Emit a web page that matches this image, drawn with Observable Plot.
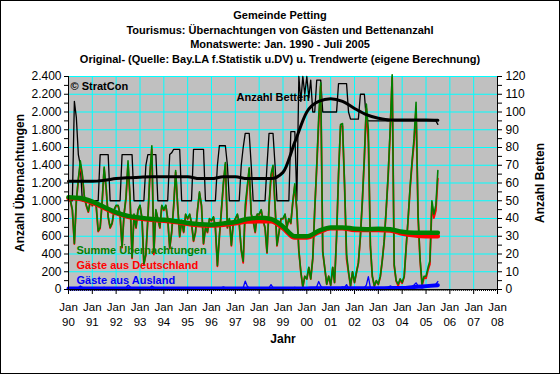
<!DOCTYPE html>
<html><head><meta charset="utf-8">
<script src="https://cdn.jsdelivr.net/npm/d3@7"></script>
<script src="https://cdn.jsdelivr.net/npm/@observablehq/plot@0.6"></script>
<style>
body{margin:0;background:#fff;}
#wrap{position:relative;width:560px;height:374px;background:#fff;font-family:"Liberation Sans",Arial,sans-serif;}
#titles{height:68px;box-sizing:border-box;padding-top:8px;text-align:center;font-weight:bold;font-size:11px;line-height:14.5px;color:#000;}
#border{position:absolute;left:0;top:0;width:560px;height:374px;box-sizing:border-box;border:1px solid #000;pointer-events:none;}
svg{display:block;}
</style></head>
<body>
<div id="wrap">
<div id="titles">
<div>Gemeinde Petting</div>
<div>Tourismus: Übernachtungen von Gästen und Bettenanzahl</div>
<div>Monatswerte: Jan. 1990 - Juli 2005</div>
<div>Original- (Quelle: Bay.LA f.Statistik u.DV) u. Trendwerte (eigene Berechnung)</div>
</div>
<div id="chart"></div>
<div id="border"></div>
</div>
<script>
// Monthly values, Jan 1990 - Jul 2005
const summe = [
 1050,1000,900,520,1000,1250,1450,1300,1050,950,880,1000,   // 1990
 950,1000,950,660,700,1000,1380,1150,820,700,750,900,       // 1991
 950,950,850,480,850,1050,1450,1050,360,850,700,900,        // 1992
 950,800,290,400,800,1300,1620,420,900,800,700,950,         // 1993
 900,950,800,470,650,950,1340,950,600,780,650,850,          // 1994
 800,850,750,550,650,900,1100,950,520,700,650,800,          // 1995
 780,820,700,270,600,900,1200,1430,700,800,500,760,         // 1996
 800,850,750,450,320,950,1150,1370,850,780,650,850,         // 1997
 850,900,780,700,420,950,1300,1400,950,500,650,800,         // 1998
 800,850,700,800,750,1000,1190,900,440,200,30,150,          // 1999
 120,250,120,350,900,1400,1950,2330,430,250,60,150,         // 2000
 50,250,80,600,1300,1860,1870,1200,400,200,40,200,          // 2001
 80,200,300,600,1000,1500,2090,1800,500,150,40,100,         // 2002
 60,150,320,550,900,1300,1800,2420,280,100,60,120,          // 2003
 80,150,470,800,1150,1450,1700,2110,850,350,60,150,         // 2004
 150,250,320,1000,850,950,1340                              // 2005
];
const deutschland = [
 1042,992,892,512,990,1230,1410,1275,1040,942,872,992,
 942,992,942,652,690,985,1355,1135,812,692,742,892,
 942,942,842,472,840,1030,1400,1020,350,842,692,892,
 942,792,282,392,790,1280,1580,395,890,792,692,942,
 892,942,792,462,640,935,1320,935,592,772,642,842,
 792,842,742,542,640,888,1085,938,512,692,642,792,
 772,812,692,262,590,880,1170,1410,692,792,492,752,
 792,842,742,442,300,855,1110,1355,842,772,642,842,
 842,892,772,692,410,930,1245,1380,940,492,642,792,
 795,845,695,795,742,985,1165,885,435,197,28,147,
 118,247,117,345,890,1370,1860,2290,420,245,58,147,
 48,247,77,595,1290,1840,1840,1175,345,190,37,197,
 77,197,296,595,990,1480,2040,1654,480,145,37,97,
 57,147,316,545,890,1280,1760,2390,270,95,40,110,
 70,138,455,780,1125,1420,1650,2035,810,330,45,130,
 125,220,285,960,805,890,1250
];
const ausland = [
 8,8,8,8,10,20,40,25,10,8,8,8,
 8,8,8,8,10,15,25,15,8,8,8,8,
 8,8,8,8,10,20,50,30,10,8,8,8,
 8,8,8,8,10,20,40,25,10,8,8,8,
 8,8,8,8,10,15,20,15,8,8,8,8,
 8,8,8,8,10,12,15,12,8,8,8,8,
 8,8,8,8,10,20,30,20,8,8,8,8,
 8,8,8,8,20,95,40,15,8,8,8,8,
 8,8,8,8,10,20,55,20,10,8,8,8,
 5,5,5,5,8,15,25,15,5,3,2,3,
 2,3,3,5,10,30,90,40,10,5,2,3,
 2,3,3,5,10,20,30,25,55,10,3,3,
 3,3,4,5,10,20,50,146,20,5,3,3,
 3,3,4,5,10,20,40,30,10,5,20,10,
 10,12,15,20,25,30,50,75,40,20,15,20,
 25,30,35,40,45,60,90
];
const betten = [
 50,50,50,106,97,76,70,50,50,50,50,50,
 50,50,50,50,76,76,76,76,76,50,50,50,
 50,50,50,76,76,76,76,76,76,50,50,50,
 50,50,50,70,76,76,76,76,76,50,50,50,
 50,50,50,76,77,79,79,79,79,50,50,50,
 50,50,50,79,79,79,79,79,79,50,50,50,
 50,50,50,70,81,81,81,81,70,50,50,50,
 50,50,50,70,80,88,88,88,70,50,50,50,
 50,50,50,50,70,88,88,88,70,50,50,50,
 50,50,50,50,89,89,89,50,120,106,120,110,
 120,108,118,100,100,118,118,118,100,100,100,100,
 100,100,100,100,116,116,116,116,116,100,96,96,
 96,96,96,110,110,110,96,95,95,95,95,95,
 95,95,95,95,95,95,95,95,95,95,95,95,
 95,95,95,95,95,95,95,95,95,95,95,95,
 95,95,95,95,95,95,93
];
// Trend values (half-yearly readings)
const trendMonths = ["1990-01","1990-07","1991-01","1991-07","1992-01","1992-07","1993-01","1993-07",
 "1994-01","1994-07","1995-01","1995-07","1996-01","1996-07","1997-01","1997-07","1998-01","1998-07",
 "1999-01","1999-07","2000-01","2000-07","2001-01","2001-07","2002-01","2002-07","2003-01","2003-07",
 "2004-01","2004-07","2005-01","2005-07"];
const trendSumme = [1040,1030,990,930,870,830,810,795,785,770,750,735,730,745,760,795,808,795,
 710,600,600,660,700,700,685,680,685,680,650,640,640,640];
const trendDeutschland = [1030,1020,980,920,860,820,800,785,775,760,740,725,720,730,745,765,770,770,
 690,585,585,645,690,690,670,670,670,665,630,610,600,600];
const trendAusland = [10,10,10,10,10,10,10,10,10,10,10,10,10,10,12,12,12,12,10,10,12,14,14,14,14,14,14,16,16,28,38,48];
const trendBetten = [61,61,61,61.5,62.5,63,63.3,63.5,63.5,63.5,63.5,62.5,62.5,63.5,63.5,62.5,62.5,62.5,
 66,83,100,106,107.5,106,102,98.5,96.5,95.5,95.5,95.5,95.5,95.3];
const yearLabels = ["90","91","92","93","94","95","96","97","98","99","00","01","02","03","04","05","06","07","08"];
const leftTicks = d3.range(0, 2401, 100);
const bettenFactor = 20; // right axis: 120 beds <-> 2400 nights

const X0 = new Date(Date.UTC(1990,0,1)), X1 = new Date(Date.UTC(2008,0,1));
const yearTicks = d3.utcYear.range(X0, d3.utcDay.offset(X1,1));
const monthTicks = d3.utcMonth.range(X0, X1);
const parseM = d3.utcParse("%Y-%m");
const rows = summe.map((v,i)=>({date:d3.utcMonth.offset(X0,i), summe:v, de:deutschland[i], aus:ausland[i], betten:betten[i]}));
const trend = trendMonths.map((m,i)=>({date:parseM(m), summe:trendSumme[i], de:trendDeutschland[i], aus:trendAusland[i], betten:trendBetten[i]}));
const fmtDE = d3.formatLocale({decimal:",", thousands:".", grouping:[3], currency:["",""]}).format(",");

const F = "Liberation Sans, Arial, sans-serif";
const chart = Plot.plot({
  width:560, height:306,
  marginLeft:68, marginRight:63, marginTop:8, marginBottom:85,
  x:{type:"utc", domain:[X0,X1], axis:null},
  y:{domain:[0,2400], axis:null},
  style:{fontFamily:F, fontSize:"11.5px", background:"transparent", color:"#000", overflow:"visible"},
  marks:[
    Plot.frame({fill:"#c0c0c0", stroke:"#808080"}),
    Plot.ruleY(d3.range(200,2401,200), {stroke:"#00ffff", strokeWidth:1}),
    Plot.ruleX(yearTicks, {stroke:"#00ffff", strokeWidth:1}),
    Plot.text(["© StratCon"], {text:d=>d, frameAnchor:"top-left", dx:2, dy:10, textAnchor:"start", lineAnchor:"middle", fontWeight:"bold", fontSize:11, fill:"#000"}),
    Plot.text(["Anzahl Betten"], {text:d=>d, frameAnchor:"top-left", dx:168, dy:21, textAnchor:"start", lineAnchor:"middle", fontWeight:"bold", fontSize:11, fill:"#000"}),
    Plot.text(["Summe Übernachtungen"], {text:d=>d, frameAnchor:"top-left", dx:8, dy:174, textAnchor:"start", lineAnchor:"middle", fontWeight:"bold", fontSize:11, fill:"#008000"}),
    Plot.text(["Gäste aus Deutschland"], {text:d=>d, frameAnchor:"top-left", dx:8, dy:189, textAnchor:"start", lineAnchor:"middle", fontWeight:"bold", fontSize:11, fill:"#ff0000"}),
    Plot.text(["Gäste aus Ausland"], {text:d=>d, frameAnchor:"top-left", dx:8, dy:204, textAnchor:"start", lineAnchor:"middle", fontWeight:"bold", fontSize:11, fill:"#0000ff"}),
    Plot.line(rows, {x:"date", y:d=>d.betten*bettenFactor, stroke:"#000", strokeWidth:1.3}),
    Plot.line(rows, {x:"date", y:"de", stroke:"#ff0000", strokeWidth:1.8}),
    Plot.line(rows, {x:"date", y:"summe", stroke:"#008000", strokeWidth:1.6}),
    Plot.line(rows, {x:"date", y:"aus", stroke:"#0000ff", strokeWidth:1.3}),
    Plot.line(trend, {x:"date", y:"de", stroke:"#ff0000", strokeWidth:4.5, curve:"monotone-x"}),
    Plot.line(trend, {x:"date", y:"summe", stroke:"#008000", strokeWidth:4.5, curve:"monotone-x"}),
    Plot.line(trend, {x:"date", y:"aus", stroke:"#0000ff", strokeWidth:4, curve:"monotone-x"}),
    Plot.line(trend, {x:"date", y:d=>d.betten*bettenFactor, stroke:"#000", strokeWidth:3, curve:"monotone-x"}),
    Plot.ruleY([0], {stroke:"#000", strokeWidth:1}),
    Plot.ruleX([X0, X1], {stroke:"#000", strokeWidth:1}),
    Plot.axisY({ticks:leftTicks, tickSize:4, tickPadding:3, tickFormat:d=>d%200===0?fmtDE(d):"", label:null, fontSize:12}),
    Plot.axisY({anchor:"right", ticks:leftTicks, tickSize:4, tickPadding:4, tickFormat:d=>d%200===0?String(d/bettenFactor):"", label:null, fontSize:12}),
    Plot.axisX({ticks:monthTicks, tickSize:2, tickFormat:()=>"", label:null}),
    Plot.axisX({ticks:yearTicks, tickSize:5, tickPadding:6, tickFormat:(d,i)=>"Jan\n"+yearLabels[i], lineHeight:1.3, label:null, fontSize:11.5}),
    Plot.text(["Anzahl Übernachtungen"], {text:d=>d, frameAnchor:"left", dx:-48, rotate:-90, textAnchor:"middle", lineAnchor:"middle", fontWeight:"bold", fontSize:12, fill:"#000"}),
    Plot.text(["Anzahl Betten"], {text:d=>d, frameAnchor:"right", dx:43, rotate:-90, textAnchor:"middle", lineAnchor:"middle", fontWeight:"bold", fontSize:12, fill:"#000"}),
    Plot.text(["Jahr"], {text:d=>d, frameAnchor:"bottom", dy:53, fontWeight:"bold", fontSize:12, fill:"#000"})
  ]
});
document.getElementById("chart").appendChild(chart);
</script>
</body></html>
